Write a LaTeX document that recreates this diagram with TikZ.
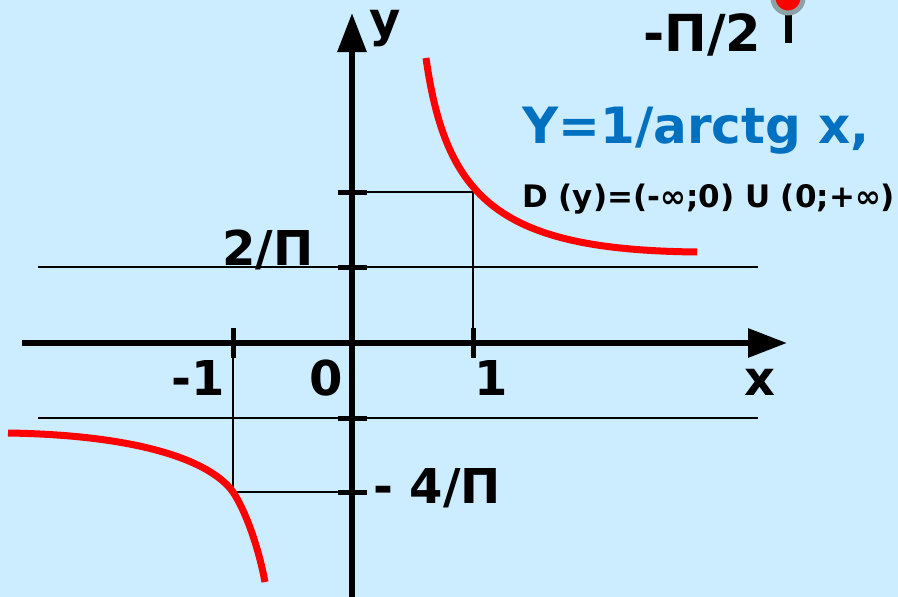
\documentclass[tikz,border=0pt]{standalone}
\usepackage{fontspec}
\setmainfont{DejaVu Sans}
\usetikzlibrary{arrows.meta}
\definecolor{skyback}{RGB}{204,236,255}
\definecolor{titleblue}{RGB}{0,112,192}
\definecolor{pinring}{RGB}{140,160,165}

\begin{document}
\begin{tikzpicture}[
  x=1pt, y=-1pt,
  every node/.style={font=\bfseries\fontsize{48}{50}\selectfont, inner sep=0pt},
  axis/.style={line width=6pt, -{Triangle[length=39pt,width=28pt]}},
  tick/.style={line width=5pt},
  guide/.style={line width=2pt},
  graph/.style={line width=7pt, red},
  small/.style={font=\bfseries\fontsize{31}{33}\selectfont},
]
  \fill[skyback] (0,0) rectangle (898,597);
  \useasboundingbox (0,0) rectangle (898,597);

  % key points
  \coordinate (O)  at (352,343);
  \coordinate (xm) at (233,343);
  \coordinate (xp) at (473,343);
  \coordinate (pt) at (473,192);
  \coordinate (pb) at (233,492);

  % asymptotes and guides
  \draw[guide] (38,267) -- (758,267);
  \draw[guide] (38,418) -- (758,418);
  \draw[guide] (O |- pt) -- (pt) -- (xp);
  \draw[guide] (xm) -- (pb) -- (O |- pb);

  % axes
  \draw[axis] (22,343) -- (787,343);
  \draw[axis] (352,600) -- (352,13);
  \foreach \tx in {233,473}
    \draw[tick] (\tx,328) -- (\tx,358);
  \foreach \ty in {192,267,418,492}
    \draw[tick] (338,\ty) -- (367,\ty);

  % branches
  \draw[graph] (426,58) .. controls (446,200) and (500,250) .. (697,252);
  \draw[graph] (8,433) .. controls (140,435) and (211,461) .. (pb)
               .. controls (245,510) and (258,545) .. (265,582);

  % labels
  \node[anchor=base] (ylab) at (385,36) {y};
  \node[anchor=base] (xlab) at (760,395) {x};
  \node[anchor=base east] (lm1) at (225,395) {-1};
  \node[anchor=base] (l0) at (326,395) {0};
  \node[anchor=base] (l1) at (491,395) {1};
  \node[anchor=base] (ltwo) at (268,265) {2/Π};
  \node[anchor=base west] (lfour) at (373,503) {- 4/Π};
  \node[anchor=base west, font=\bfseries\fontsize{51}{53}\selectfont] (lhalf) at (643,52) {-Π/2};
  \node[anchor=base west, titleblue, font=\bfseries\fontsize{50}{52}\selectfont] (title) at (522,143) {Y=1/arctg x,};
  \node[anchor=base west, small] (dom) at (522,207) {D (y)=(-∞;0) U (0;+∞)};

  % pin
  \begin{scope}
    \clip (0,0) rectangle (898,597);
    \draw[line width=7pt] (788,14) -- (788,43);
    \filldraw[fill=red, draw=pinring, line width=5pt] (788,-2) circle (15);
  \end{scope}
\end{tikzpicture}
\end{document}
